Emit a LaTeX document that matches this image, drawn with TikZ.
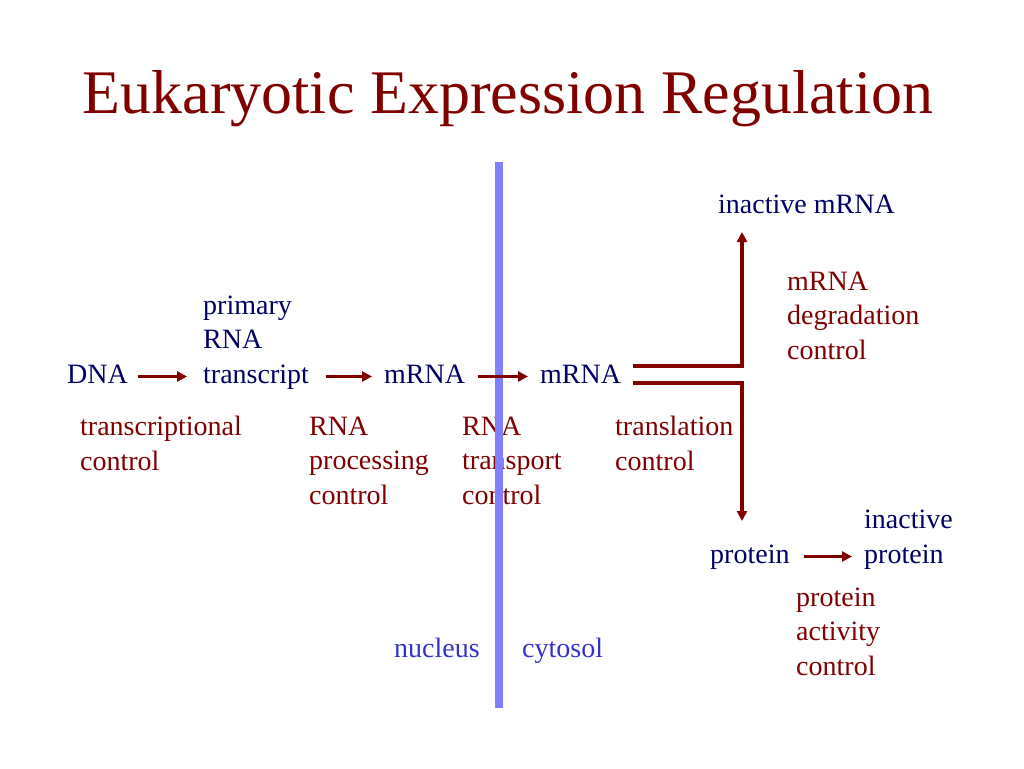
\documentclass[tikz,border=0pt]{standalone}
\usepackage{fontspec}
\setmainfont{Liberation Serif}
\usetikzlibrary{arrows.meta}
\definecolor{darkred}{HTML}{800000}
\definecolor{navy}{HTML}{000066}
\definecolor{lav}{HTML}{8080FF}
\definecolor{cellblue}{HTML}{3333CC}

\begin{document}
\begin{tikzpicture}[x=1pt,y=-1pt,
  every node/.style={inner sep=0pt},
  mol/.style={text=navy,font=\fontsize{28}{34.5}\selectfont,align=left},
  word/.style={mol,text height=19pt,text depth=6pt},
  ctrl/.style={text=darkred,font=\fontsize{28}{34.5}\selectfont,align=left},
  arr/.style={draw=darkred,line width=3.2pt,-{Triangle[length=10pt,width=10pt]}},
  wall/.style={draw=lav,line width=8pt}]

  \useasboundingbox (0,0) rectangle (1024,768);

  \node[text=darkred,font=\fontsize{62}{70}\selectfont,anchor=base] (title) at (508,113) {Eukaryotic Expression Regulation};

  % main row
  \node[word,anchor=base west] (dna) at (67,383) {DNA};
  \node[mol,anchor=base west] (prim) at (203,383) {primary\\RNA\\transcript};
  \node[word,anchor=base west] (mrnaA) at (384,383) {mRNA};
  \node[word,anchor=base west] (mrnaB) at (540,383) {mRNA};

  \node[word,anchor=base west] (inmrna) at (718,213) {inactive mRNA};
  \node[ctrl,anchor=base west] (degr) at (787,359) {mRNA\\degradation\\control};

  % controls
  \node[ctrl,anchor=base west] (trsc) at (80,470) {transcriptional\\control};
  \node[ctrl,anchor=base west] (proc) at (309,504) {RNA\\processing\\control};
  \node[ctrl,anchor=base west] (trsp) at (462,504) {RNA\\transport\\control};
  \node[ctrl,anchor=base west] (trsl) at (615,470) {translation\\control};

  % protein
  \node[word,anchor=base west] (prot) at (710,563) {protein};
  \node[mol,anchor=base west] (inprot) at (864,563) {inactive\\protein};
  \node[ctrl,anchor=base west] (act) at (796,675) {protein\\activity\\control};

  \node[text=cellblue,font=\fontsize{28}{34.5}\selectfont,anchor=base west] (nuc) at (394,657) {nucleus};
  \node[text=cellblue,font=\fontsize{28}{34.5}\selectfont,anchor=base west] (cyto) at (522,657) {cytosol};

  % membrane
  \coordinate (wtop) at (499,162);
  \coordinate (wbot) at (499,708);
  \draw[wall] (wtop) -- (wbot);

  \coordinate (upend) at (742,232);
  \coordinate (downend) at (742,521);

  \draw[arr,shorten <=10pt,shorten >=16pt] (dna.east) -- (dna.east -| prim.west);
  \draw[arr,shorten <=17pt,shorten >=12pt] (mrnaA.west -| prim.east) -- (mrnaA.west);
  \draw[arr,shorten <=13pt,shorten >=12pt] (mrnaA.east) -- (mrnaB.west);
  \draw[arr,shorten <=12pt] ([yshift=10.5pt]mrnaB.east) -| (upend);
  \draw[arr,shorten <=12pt] ([yshift=-6.5pt]mrnaB.east) -| (downend);
  \draw[arr,shorten <=14pt,shorten >=12pt] (prot.east) -- (prot.east -| inprot.west);

\end{tikzpicture}
\end{document}
